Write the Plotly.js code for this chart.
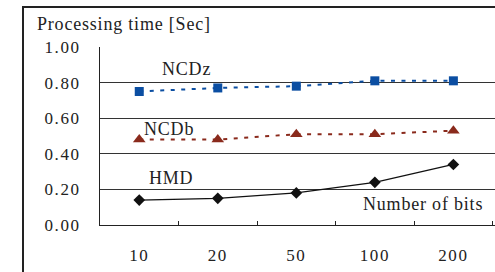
<!DOCTYPE html>
<html><head><meta charset="utf-8">
<script src="https://cdn.plot.ly/plotly-3.0.1.min.js"></script>
<style>
html,body{margin:0;padding:0;background:#fff;overflow:hidden;}
#wrap{position:relative;width:495px;height:272px;overflow:hidden;}
#frame{position:absolute;left:22px;top:6px;width:600px;height:400px;border:2px solid #222;box-sizing:border-box;}
#chart{position:absolute;left:0;top:0;width:495px;height:272px;}
.xtick text, .ytick text{letter-spacing:1.6px;}
.annotation-text{letter-spacing:0.8px;}
</style>
</head><body><div id="wrap"><div id="frame"></div><div id="chart"></div></div>
<script>
const categories = ['10', '20', '50', '100', '200'];
const ncdz = [0.75, 0.77, 0.78, 0.81, 0.81];
const ncdb = [0.48, 0.48, 0.51, 0.51, 0.53];
const hmd = [0.14, 0.15, 0.18, 0.24, 0.34];
const yTicks = [0, 0.2, 0.4, 0.6, 0.8, 1.0];
const yTickLabels = ['0.00', '0.20', '0.40', '0.60', '0.80', '1.00'];

const font = '"Liberation Serif", "Times New Roman", serif';
const tf = {family: font, size: 17, color: '#222'};
const af = {family: font, size: 18, color: '#222'};
const traces = [
  {x: categories, y: ncdz, type: 'scatter', mode: 'lines+markers', name: 'NCDz',
   line: {color: '#0b4ea2', width: 2, dash: '4px,6.5px'},
   marker: {symbol: 'square', size: 9, color: '#0b4ea2'}},
  {x: categories, y: ncdb, type: 'scatter', mode: 'lines+markers', name: 'NCDb',
   line: {color: '#8a2a1c', width: 2, dash: '4px,6.5px'},
   marker: {symbol: 'triangle-up', size: 11, color: '#8a2a1c'}},
  {x: categories, y: hmd, type: 'scatter', mode: 'lines+markers', name: 'HMD',
   line: {color: '#111', width: 1.3},
   marker: {symbol: 'diamond', size: 9, color: '#111'}}
];
const layout = {
  width: 495, height: 272,
  margin: {l: 100, r: 0, t: 47, b: 46.5},
  paper_bgcolor: 'rgba(0,0,0,0)', plot_bgcolor: 'rgba(0,0,0,0)',
  showlegend: false,
  font: tf,
  xaxis: {type: 'category', range: [-0.5, 4.53], showgrid: false, zeroline: false,
          showline: true, linecolor: '#222', linewidth: 1,
          ticks: 'inside', tickson: 'boundaries', ticklen: 4, tickcolor: '#222',
          ticklabelstandoff: 15, tickfont: tf},
  yaxis: {range: [0, 1.0], tickvals: yTicks, ticktext: yTickLabels,
          showgrid: true, gridcolor: '#333', gridwidth: 1, zeroline: false,
          showline: true, linecolor: '#222', linewidth: 1,
          ticks: 'outside', ticklen: 15, tickcolor: 'rgba(0,0,0,0)',
          tickfont: tf},
  annotations: [
    {text: 'Processing time [Sec]', xref: 'paper', yref: 'paper', x: -0.165, y: 1.13,
     xanchor: 'left', yanchor: 'middle', showarrow: false, font: af},
    {text: 'NCDz', xref: 'x', yref: 'y', x: 0.6, y: 0.875, showarrow: false, font: af},
    {text: 'NCDb', xref: 'x', yref: 'y', x: 0.38, y: 0.54, showarrow: false, font: af},
    {text: 'HMD', xref: 'x', yref: 'y', x: 0.41, y: 0.265, showarrow: false, font: af},
    {text: 'Number of bits', xref: 'paper', yref: 'y', x: 0.974, y: 0.12, xanchor: 'right', showarrow: false, font: af}
  ]
};
Plotly.newPlot('chart', traces, layout, {displayModeBar: false, staticPlot: true});
</script></body></html>
